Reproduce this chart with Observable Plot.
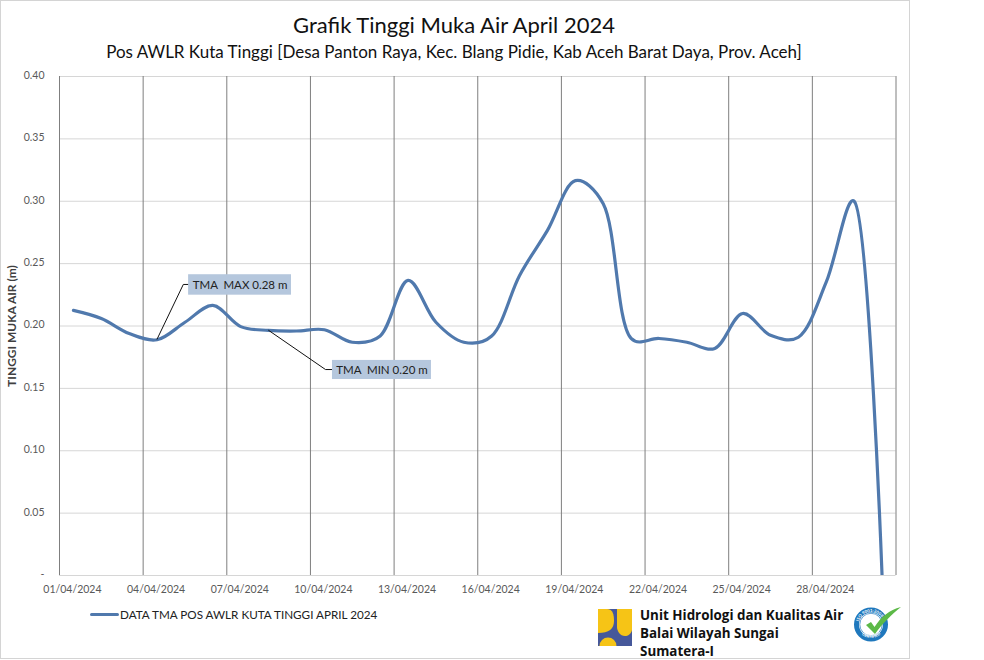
<!DOCTYPE html>
<html><head><meta charset="utf-8">
<script src="https://cdn.jsdelivr.net/npm/d3@7"></script>
<script src="https://cdn.jsdelivr.net/npm/@observablehq/plot@0.6"></script>
<style>
html,body{margin:0;padding:0;background:#fff;overflow:hidden}
#page{position:relative;width:984px;height:660px;font-family:Lato,sans-serif;overflow:hidden}
#frame{position:absolute;left:0;top:0;width:908px;height:657px;border:1px solid #d4d4d4;pointer-events:none}
#chart{position:absolute;left:0;top:0}
#page h1,#page h2{position:absolute;margin:0;font-weight:400;color:#111;white-space:nowrap;left:0;width:908px;text-align:center}
#page h1{top:11px;font-size:22px;line-height:28px}
#page h2{top:40px;font-size:17px;line-height:24px}
#legend{position:absolute;left:90px;top:606px;font-size:11.7px;line-height:16px;color:#222;white-space:nowrap}
#legend i{display:inline-block;width:29px;height:3px;background:#5079ad;vertical-align:3px;margin-right:1px;border-radius:2px}
#unit{position:absolute;left:640px;top:606px;font:700 13.4px/18px "Open Sans",sans-serif;color:#111;white-space:nowrap}
#logo{position:absolute;left:598px;top:609px}
#badge{position:absolute;left:853px;top:603px}
</style></head><body>
<div id="page">
<div id="chart"></div>
<div id="frame"></div>
<h1>Grafik Tinggi Muka Air April 2024</h1>
<h2>Pos AWLR Kuta Tinggi [Desa Panton Raya, Kec. Blang Pidie, Kab Aceh Barat Daya, Prov. Aceh]</h2>
<div id="legend"><i></i>DATA TMA POS AWLR KUTA TINGGI APRIL 2024</div>
<svg id="logo" width="34" height="37" viewBox="0 0 34 37"><rect width="34" height="37" fill="#46589a"/><path d="M0 0H9C15 0 16 6 16 12C16 20 11 24 0 24Z" fill="#f6c416"/><path d="M19 0H34V21C33 25 30 27 27 27C22 27 19 22 19 18Z" fill="#f6c416"/><path d="M1.5 37A8.5 8.5 0 0 1 18.5 37Z" fill="#f6c416"/></svg>
<svg id="badge" width="50" height="44" viewBox="0 0 50 44"><defs><path id="arcTop" d="M5.5 21.5A12.5 12.5 0 0 1 30.5 21.5"/><path id="arcBot" d="M4.5 21.5A13.5 13.5 0 0 0 31.5 21.5"/></defs><circle cx="18" cy="21.5" r="14.5" fill="#fff" stroke="#1f78bd" stroke-width="5"/><circle cx="18" cy="21.5" r="11.2" fill="#fff" stroke="#1f78bd" stroke-width=".7"/><text font-family="Lato,sans-serif" font-size="4.2" font-weight="700" fill="#fff"><textPath href="#arcTop" startOffset="8%">ISO 9001:2008</textPath></text><text font-family="Lato,sans-serif" font-size="4.2" font-weight="700" fill="#fff"><textPath href="#arcBot" startOffset="26%">CERTIFIED</textPath></text><path d="M13 22L18 19L21.5 24C28 14 36 7 48 4C39 11 29 21 22 31Z" fill="#5cb947"/></svg>
<div id="unit">Unit Hidrologi dan Kualitas Air<br>Balai Wilayah Sungai<br>Sumatera-I</div>
</div>
<script>
const days = ["01/04/2024","02/04/2024","03/04/2024","04/04/2024","05/04/2024","06/04/2024","07/04/2024","08/04/2024","09/04/2024","10/04/2024","11/04/2024","12/04/2024","13/04/2024","14/04/2024","15/04/2024","16/04/2024","17/04/2024","18/04/2024","19/04/2024","20/04/2024","21/04/2024","22/04/2024","23/04/2024","24/04/2024","25/04/2024","26/04/2024","27/04/2024","28/04/2024","29/04/2024","30/04/2024"];
const tma = [0.2125,0.206,0.194,0.189,0.203,0.2165,0.1995,0.1965,0.196,0.197,0.187,0.192,0.2365,0.203,0.187,0.192,0.2405,0.2767,0.3165,0.298,0.19,0.19,0.187,0.182,0.21,0.1925,0.191,0.2353,0.30,0];
const yTicks = [0,0.05,0.10,0.15,0.20,0.25,0.30,0.35,0.40];
const tickEvery = 3;
const maxLabel = "TMA  MAX 0.28 m";
const minLabel = "TMA  MIN 0.20 m";
const maxLeader = [[4,0.1895],[4.94,0.2333],[5.13,0.2333]];
const minLeader = [[8,0.1965],[10.04,0.1651],[10.29,0.1651]];
const maxBox = {x1:5.13,x2:8.82,y1:0.2247,y2:0.2411};
const minBox = {x1:10.29,x2:13.84,y1:0.1571,y2:0.1724};

const DAY = 864e5;
const dayTime = d => new Date(Date.UTC(2024,3,1) + (d-1)*DAY);
const parse = s => { const [d,m,y] = s.split("/").map(Number); return new Date(Date.UTC(y,m-1,d)); };
const series = days.map((d,i)=>({date:parse(d),value:tma[i]}));
const tickDates = series.filter((_,i)=>i%tickEvery===0).map(d=>d.date);
const edges = d3.range(0,days.length+1,tickEvery).map(i=>dayTime(i+0.5));
const toPts = a => a.map(([d,v])=>({date:dayTime(d),value:v}));
const fmt = d3.utcFormat("%d/%m/%Y");
const boxes = [maxBox,minBox].map(b=>({x1:dayTime(b.x1),x2:dayTime(b.x2),y1:b.y1,y2:b.y2}));
const labels = [{b:maxBox,t:maxLabel},{b:minBox,t:minLabel}].map(({b,t})=>({date:dayTime((b.x1+b.x2)/2),value:(b.y1+b.y2)/2,t}));

const plot = Plot.plot({
  width:984,height:660,marginLeft:59,marginRight:88.5,marginTop:76,marginBottom:85,
  style:{fontFamily:"Lato,sans-serif",background:"transparent"},
  x:{type:"utc",domain:[edges[0],edges[edges.length-1]],label:null},
  y:{domain:[0,0.4],label:null},
  marks:[
    Plot.ruleY(yTicks,{stroke:"#d6d6d6",strokeWidth:1}),
    Plot.ruleX(edges,{stroke:"#7f7f7f",strokeWidth:1}),
    Plot.axisY({ticks:yTicks,tickSize:0,tickPadding:15,dy:-1,tickFormat:d=>d===0?"-":d.toFixed(2),fill:"#595959",fontSize:10.5,label:null}),
    Plot.axisX({ticks:tickDates,tickSize:0,tickPadding:10,dx:-1,tickFormat:fmt,fill:"#595959",fontSize:10.5,label:null}),
    Plot.text(["TINGGI MUKA AIR (m)"],{frameAnchor:"left",dx:-47,rotate:-90,textAnchor:"middle",fontWeight:700,fontSize:12,fill:"#404040"}),
    Plot.line(series,{x:"date",y:"value",stroke:"#5079ad",strokeWidth:3.2,curve:"catmull-rom",tension:0.4,clip:true}),
    Plot.line(toPts(maxLeader),{x:"date",y:"value",stroke:"#111",strokeWidth:1}),
    Plot.line(toPts(minLeader),{x:"date",y:"value",stroke:"#111",strokeWidth:1}),
    Plot.rect(boxes,{x1:"x1",x2:"x2",y1:"y1",y2:"y2",fill:"#b5c7dd"}),
    Plot.text(labels,{x:"date",y:"value",text:"t",fill:"#222",fontSize:11.5})
  ]
});
document.getElementById("chart").appendChild(plot);
</script>
</body></html>
